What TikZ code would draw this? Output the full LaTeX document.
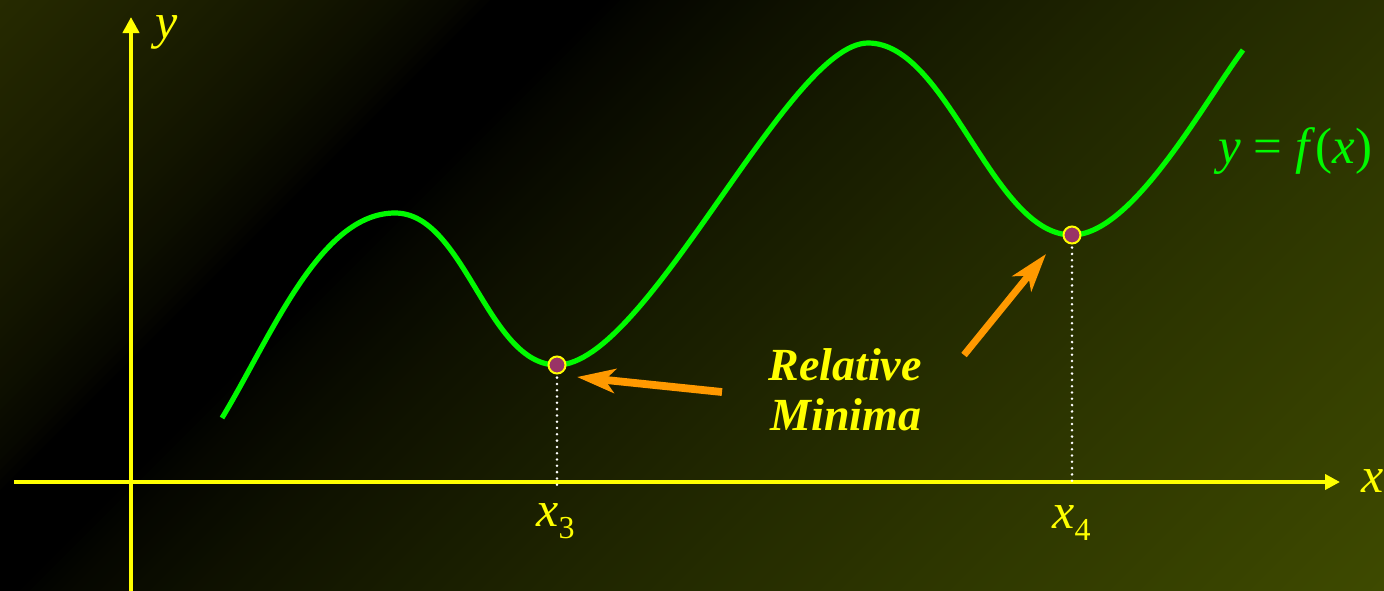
\documentclass[tikz,border=0pt]{standalone}
\usepackage{fontspec}
\setmainfont{Liberation Serif}
\usetikzlibrary{arrows.meta}
\definecolor{axisyellow}{RGB}{255,255,0}
\definecolor{curvegreen}{RGB}{0,250,0}
\definecolor{arroworange}{RGB}{255,153,0}
\definecolor{dotpurple}{RGB}{153,51,102}
\begin{document}
\begin{tikzpicture}[x=0.5pt,y=-0.5pt,
  axisline/.style={draw=axisyellow,line width=2.4pt},
  curveline/.style={draw=curvegreen,line width=2.6pt},
  dropline/.style={draw=white,line width=1.4pt,line cap=round,dash pattern=on 0pt off 3.15pt},
  mindot/.style={circle,fill=dotpurple,draw=axisyellow,line width=1pt,minimum size=8.5pt,inner sep=0pt},
  pointer/.style={draw=arroworange,line width=3.9pt,-{Stealth[length=19pt,width=12pt,inset=5pt]}},
  axlabel/.style={text=axisyellow,font=\fontsize{25}{30}\selectfont\itshape,inner sep=0pt,anchor=base west},
  minlabel/.style={text=axisyellow,font=\fontsize{23}{25}\selectfont\bfseries\itshape,inner sep=0pt,anchor=base},
  funclabel/.style={text=curvegreen,font=\fontsize{25.5}{30}\selectfont,inner sep=0pt,anchor=base west}]
\useasboundingbox (0,0) rectangle (1384,590);
% background gradient
\begin{scope}
\clip (0,0) rectangle (1384,590);
\foreach \t in {0,10,...,1980} {
  \pgfmathsetmacro{\u}{\t+5}
  \pgfmathsetmacro{\fa}{max(1-\u/490,0.0001)^0.65}
  \pgfmathsetmacro{\fb}{max((\u-610)/1364,0.0001)^0.75}
  \pgfmathsetmacro{\bgr}{\u<490 ? 0.149*\fa : (\u>610 ? 0.243*\fb : 0)}
  \pgfmathsetmacro{\bgg}{\u<490 ? 0.165*\fa : (\u>610 ? 0.290*\fb : 0)}
  \definecolor{bgc}{rgb}{\bgr,\bgg,0}
  \fill[bgc] (\t,0) -- (\t+12,0) -- (\t+12-620,620) -- (\t-620,620) -- cycle;
}
\end{scope}
% axes
\coordinate (ybot) at (131,600);
\coordinate (ytop) at (131,17);
\coordinate (xleft) at (14,482);
\coordinate (xright) at (1340,482);
\draw[axisline,-{Triangle[length=8pt,width=8pt]}] (ybot) -- (ytop);
\draw[axisline,line width=2.2pt,-{Triangle[length=7.5pt,width=7.5pt]}] (xleft) -- (xright);
\node[axlabel] (ylab) at (155,38) {y};
\node[axlabel] (xlab) at (1361,492) {x};
% minima points and drop lines
\coordinate (p3) at (557,365);
\coordinate (p4) at (1072,235);
\coordinate (b3) at (557,486);
\coordinate (b4) at (1072,486);
\draw[dropline] (p3) -- (b3);
\draw[dropline] (p4) -- (b4);
% curve
\draw[curveline] (222,418) .. controls (272,335) and (320,213) .. (395,213)
  .. controls (465,213) and (487,365) .. (p3)
  .. controls (647,365) and (788,43) .. (868,43)
  .. controls (948,43) and (992,235) .. (p4)
  .. controls (1132,235) and (1203,104) .. (1243,50);
\node[mindot] (m3) at (p3) {};
\node[mindot] (m4) at (p4) {};
% labels
\node[axlabel] (x3) at (536,526) {x\raisebox{-6pt}{\fontsize{16}{18}\selectfont\upshape 3}};
\node[axlabel] (x4) at (1052,528) {x\raisebox{-6pt}{\fontsize{16}{18}\selectfont\upshape 4}};
\node[funclabel] (flab) at (1218,163) {\textit{y} = \textit{f}(\textit{x})};
\node[minlabel] (rel) at (845,380) {Relative};
\node[minlabel] (mina) at (846,430) {Minima};
% pointers
\coordinate (a1s) at (722,392);
\coordinate (a1e) at (577,377);
\coordinate (a2s) at (964,355);
\coordinate (a2e) at (1046,254);
\draw[pointer] (a1s) -- (a1e);
\draw[pointer,line width=3.5pt] (a2s) -- (a2e);
\end{tikzpicture}
\end{document}
